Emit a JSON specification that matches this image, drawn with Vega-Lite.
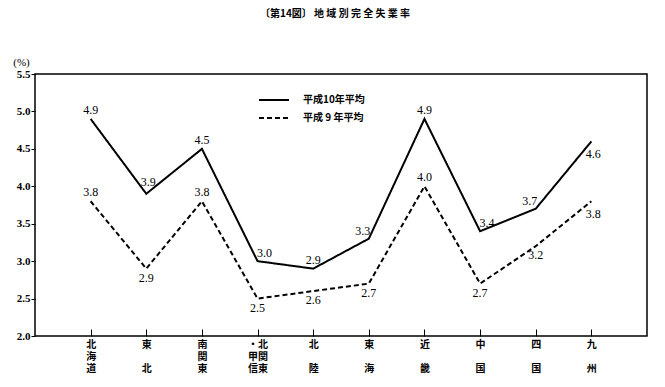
{
  "$schema": "https://vega.github.io/schema/vega-lite/v6.json",
  "autosize": {"type": "none"},
  "width": 612,
  "height": 262,
  "padding": {"left": 35, "top": 74, "right": 18, "bottom": 51},
  "background": "white",
  "title": {
    "text": "〔第14図〕  地 域 別 完 全 失 業 率",
    "font": "Noto Sans CJK JP",
    "fontSize": 10,
    "fontWeight": "bold",
    "color": "black",
    "anchor": "middle",
    "frame": "group",
    "baseline": "middle",
    "offset": 32,
    "dx": -6
  },
  "config": {
    "view": {"stroke": "black", "strokeWidth": 1.5},
    "axis": {"grid": false, "domain": false}
  },
  "data": {
    "values": [
      {"region": "北海道", "series": "平成10年平均", "value": 4.9},
      {"region": "東北", "series": "平成10年平均", "value": 3.9},
      {"region": "南関東", "series": "平成10年平均", "value": 4.5},
      {"region": "北関東・甲信", "series": "平成10年平均", "value": 3.0},
      {"region": "北陸", "series": "平成10年平均", "value": 2.9},
      {"region": "東海", "series": "平成10年平均", "value": 3.3},
      {"region": "近畿", "series": "平成10年平均", "value": 4.9},
      {"region": "中国", "series": "平成10年平均", "value": 3.4},
      {"region": "四国", "series": "平成10年平均", "value": 3.7},
      {"region": "九州", "series": "平成10年平均", "value": 4.6},
      {"region": "北海道", "series": "平成 9 年平均", "value": 3.8},
      {"region": "東北", "series": "平成 9 年平均", "value": 2.9},
      {"region": "南関東", "series": "平成 9 年平均", "value": 3.8},
      {"region": "北関東・甲信", "series": "平成 9 年平均", "value": 2.5},
      {"region": "北陸", "series": "平成 9 年平均", "value": 2.6},
      {"region": "東海", "series": "平成 9 年平均", "value": 2.7},
      {"region": "近畿", "series": "平成 9 年平均", "value": 4.0},
      {"region": "中国", "series": "平成 9 年平均", "value": 2.7},
      {"region": "四国", "series": "平成 9 年平均", "value": 3.2},
      {"region": "九州", "series": "平成 9 年平均", "value": 3.8}
    ]
  },
  "encoding": {
    "x": {
      "field": "region",
      "type": "ordinal",
      "scale": {"type": "point", "padding": 1, "domain": ["北海道", "東北", "南関東", "北関東・甲信", "北陸", "東海", "近畿", "中国", "四国", "九州"]},
      "axis": {
        "title": null,
        "labelAngle": 0,
        "labelExpr": "datum.value == '北関東・甲信' ? ['・北','甲関','信東'] : datum.value == '北海道' ? ['北','海','道'] : datum.value == '南関東' ? ['南','関','東'] : datum.value == '東北' ? ['東','\u2800','北'] : datum.value == '北陸' ? ['北','\u2800','陸'] : datum.value == '東海' ? ['東','\u2800','海'] : datum.value == '近畿' ? ['近','\u2800','畿'] : datum.value == '中国' ? ['中','\u2800','国'] : datum.value == '四国' ? ['四','\u2800','国'] : ['九','\u2800','州']",
        "labelFont": "Noto Sans CJK JP",
        "labelFontSize": 10,
        "labelFontWeight": "bold",
        "labelColor": "black",
        "labelLineHeight": 12,
        "labelBaseline": "top",
        "tickColor": "black",
        "tickSize": -7,
        "tickWidth": 1,
        "labelPadding": 10
      }
    },
    "y": {
      "field": "value",
      "type": "quantitative",
      "scale": {"domain": [2, 5.5], "nice": false, "zero": false},
      "axis": {
        "title": "(%)",
        "titleAngle": 0,
        "titleX": -14,
        "titleY": -12,
        "titleAlign": "center",
        "titleBaseline": "middle",
        "titleFont": "Liberation Serif",
        "titleFontSize": 11,
        "titleFontWeight": "normal",
        "titleColor": "black",
        "values": [2.0, 2.5, 3.0, 3.5, 4.0, 4.5, 5.0, 5.5],
        "format": ".1f",
        "labelFont": "Liberation Serif",
        "labelFontSize": 11,
        "labelFontWeight": "bold",
        "labelColor": "black",
        "tickColor": "black",
        "tickSize": 4,
        "labelPadding": 1
      }
    }
  },
  "layer": [
    {
      "mark": {"type": "line", "color": "black", "strokeWidth": 2},
      "encoding": {
        "strokeDash": {
          "field": "series",
          "type": "nominal",
          "scale": {"domain": ["平成10年平均", "平成 9 年平均"], "range": [[1, 0], [5, 3]]},
          "legend": {
            "title": null,
            "orient": "none",
            "legendX": 233,
            "legendY": 20,
            "padding": 0,
            "symbolType": "M-3,0H3",
            "symbolSize": 100,
            "symbolStrokeWidth": 2,
            "symbolStrokeColor": "black",
            "labelOffset": 23,
            "labelFont": "Noto Sans CJK JP",
            "labelFontSize": 10,
            "labelFontWeight": "bold",
            "labelColor": "black",
            "rowPadding": 7
          }
        }
      }
    },
    {
      "transform": [{"filter": {"or": [
        {"and": [{"field": "series", "equal": "平成10年平均"}, {"field": "region", "oneOf": ["北海道", "南関東", "北陸", "近畿"]}]},
        {"and": [{"field": "series", "equal": "平成 9 年平均"}, {"field": "region", "oneOf": ["北海道", "南関東", "近畿"]}]}
      ]}}],
      "mark": {"type": "text", "font": "Liberation Serif", "fontSize": 12, "fill": "black", "baseline": "middle", "dy": -9},
      "encoding": {"text": {"field": "value", "type": "quantitative", "format": ".1f"}}
    },
    {
      "transform": [{"filter": {"and": [{"field": "series", "equal": "平成10年平均"}, {"field": "region", "equal": "東北"}]}}],
      "mark": {"type": "text", "font": "Liberation Serif", "fontSize": 12, "fill": "black", "baseline": "middle", "dx": 2, "dy": -12},
      "encoding": {"text": {"field": "value", "type": "quantitative", "format": ".1f"}}
    },
    {
      "transform": [{"filter": {"and": [{"field": "series", "equal": "平成10年平均"}, {"field": "region", "oneOf": ["北関東・甲信", "中国"]}]}}],
      "mark": {"type": "text", "font": "Liberation Serif", "fontSize": 12, "fill": "black", "baseline": "middle", "dx": 7, "dy": -8},
      "encoding": {"text": {"field": "value", "type": "quantitative", "format": ".1f"}}
    },
    {
      "transform": [{"filter": {"and": [{"field": "series", "equal": "平成10年平均"}, {"field": "region", "oneOf": ["東海", "四国"]}]}}],
      "mark": {"type": "text", "font": "Liberation Serif", "fontSize": 12, "fill": "black", "baseline": "middle", "dx": -6, "dy": -8},
      "encoding": {"text": {"field": "value", "type": "quantitative", "format": ".1f"}}
    },
    {
      "transform": [{"filter": {"and": [{"field": "series", "equal": "平成 9 年平均"}, {"field": "region", "oneOf": ["東北", "北関東・甲信", "北陸", "東海", "中国", "四国"]}]}}],
      "mark": {"type": "text", "font": "Liberation Serif", "fontSize": 12, "fill": "black", "baseline": "middle", "dy": 9},
      "encoding": {"text": {"field": "value", "type": "quantitative", "format": ".1f"}}
    },
    {
      "transform": [{"filter": {"field": "region", "equal": "九州"}}],
      "mark": {"type": "text", "font": "Liberation Serif", "fontSize": 12, "fill": "black", "baseline": "middle", "dx": 2, "dy": 13},
      "encoding": {"text": {"field": "value", "type": "quantitative", "format": ".1f"}}
    }
  ]
}
